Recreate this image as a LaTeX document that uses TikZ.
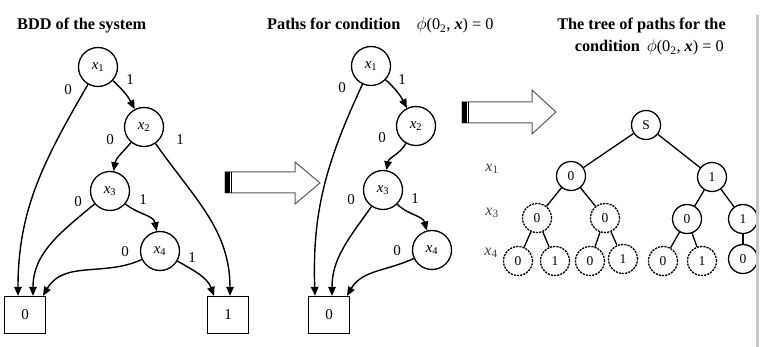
\documentclass[tikz,border=0pt]{standalone}
\usepackage{fontspec}
\setmainfont{Liberation Serif}
\usetikzlibrary{arrows.meta}

\tikzset{
  bdd/.style={circle,draw,line width=1.3pt,minimum size=39pt,inner sep=0pt,font=\fontsize{15}{15}\selectfont},
  term/.style={rectangle,draw,line width=1.3pt,minimum width=41pt,minimum height=37pt,inner sep=0pt,font=\fontsize{15}{15}\selectfont},
  edge/.style={line width=1.4pt,-{Triangle[length=9pt,width=7.5pt]}},
  lbl/.style={font=\fontsize{15}{15}\selectfont,inner sep=0pt},
  tnode/.style={circle,draw,line width=1.3pt,minimum size=29pt,inner sep=0pt,font=\fontsize{13.5}{13.5}\selectfont},
  tdash/.style={tnode,dash pattern=on 2.2pt off 1pt},
  tedge/.style={line width=1.3pt},
  lvl/.style={font=\fontsize{16}{16}\selectfont,inner sep=0pt,text=black!75},
  title/.style={font=\fontsize{16.3}{19}\selectfont,inner sep=0pt},
  bigarrow/.style={draw=black!65,line width=1pt,fill=white},
}
\newcommand{\xv}[1]{\textit{x}\textsubscript{#1}}
\newcommand{\cond}{$\phi$(0\textsubscript{2}, \textbf{\textit{x}}) = 0}

\begin{document}
\begin{tikzpicture}[x=1pt,y=1pt]
\fill[white] (0,0) rectangle (760,-347);
\useasboundingbox (0,0) rectangle (760,-347);

% titles
\node[title,anchor=base west] (t1) at (17,-30) {\textbf{BDD of the system}};
\node[title,anchor=base west] (t2) at (267,-30) {\textbf{Paths for condition}\quad\cond};
\node[title,anchor=base east] (t3a) at (726,-30) {\textbf{The tree of paths for the}};
\node[title,anchor=base east] (t3b) at (724,-52) {\textbf{condition}\, \cond};

% ---- BDD of the system ----
\node[bdd] (a1) at (98,-67) {\xv{1}};
\node[bdd] (a2) at (144,-127) {\xv{2}};
\node[bdd] (a3) at (110,-191) {\xv{3}};
\node[bdd] (a4) at (160,-251) {\xv{4}};
\node[term] (b0) at (25,-315) {0};
\node[term] (b1) at (228,-315) {1};

\draw[edge] (a1) to[out=240,in=90] ([xshift=-7pt]b0.north);
\draw[edge] (a1) to[bend left=10] (a2);
\draw[edge] (a2) to[out=230,in=80] (a3);
\draw[edge] (a2) to[out=-55,in=90] ([xshift=2pt]b1.north);
\draw[edge] (a3) to[out=220,in=90] ([xshift=8pt]b0.north);
\draw[edge] (a3) to[out=-40,in=100] (a4);
\draw[edge] (a4) to[out=205,in=60] ([xshift=18pt]b0.north);
\draw[edge] (a4) to[out=-30,in=110] ([xshift=-14pt]b1.north);

\node[lbl] (la1) at (68,-90) {0};
\node[lbl] (la2) at (130,-80) {1};
\node[lbl] (la3) at (110,-140) {0};
\node[lbl] (la4) at (180,-140) {1};
\node[lbl] (la5) at (78,-202) {0};
\node[lbl] (la6) at (143,-200) {1};
\node[lbl] (la7) at (125,-252) {0};
\node[lbl] (la8) at (192,-258) {1};

% ---- paths for the condition ----
\node[bdd] (p1) at (371,-66) {\xv{1}};
\node[bdd] (p2) at (416,-126) {\xv{2}};
\node[bdd] (p3) at (383,-190) {\xv{3}};
\node[bdd] (p4) at (432,-250) {\xv{4}};
\node[term] (c0) at (329,-315) {0};

\draw[edge] (p1) to[out=245,in=92] ([xshift=-14pt]c0.north);
\draw[edge] (p1) to[bend left=10] (p2);
\draw[edge] (p2) to[out=240,in=80] (p3);
\draw[edge] (p3) to[out=235,in=90] ([xshift=3pt]c0.north);
\draw[edge] (p3) to[out=-45,in=105] (p4);
\draw[edge] (p4) to[out=205,in=60] ([xshift=18pt]c0.north);

\node[lbl] (lp1) at (342,-88) {0};
\node[lbl] (lp2) at (402,-80) {1};
\node[lbl] (lp3) at (382,-138) {0};
\node[lbl] (lp4) at (351,-200) {0};
\node[lbl] (lp5) at (415,-199) {1};
\node[lbl] (lp6) at (397,-251) {0};

% ---- hollow transition arrows ----
\draw[bigarrow] (225,-172) -- (295,-172) -- (295,-162) -- (320,-183) -- (295,-204) -- (295,-193) -- (225,-193) -- cycle;
\fill (225,-172) rectangle (229.5,-193);
\draw[line width=0.8pt] (231.5,-172) -- (231.5,-193);

\draw[bigarrow] (462,-102) -- (532,-102) -- (532,-90) -- (556,-112) -- (532,-134) -- (532,-123) -- (462,-123) -- cycle;
\fill (462,-102) rectangle (466.5,-123);
\draw[line width=0.8pt] (468.5,-102) -- (468.5,-123);

% ---- tree of paths ----
\node[lvl] (v1) at (492,-169) {\xv{1}};
\node[lvl] (v3) at (492,-213) {\xv{3}};
\node[lvl] (v4) at (491,-253) {\xv{4}};

\node[tnode] (s) at (646,-125) {S};
\node[tnode] (n0) at (571,-176) {0};
\node[tnode] (n1) at (712,-177) {1};
\node[tdash] (m1) at (537,-218) {0};
\node[tdash] (m2) at (605,-218) {0};
\node[tnode] (m3) at (687,-219) {0};
\node[tnode] (m4) at (743,-219) {1};
\node[tdash] (k1) at (518,-261) {0};
\node[tdash] (k2) at (555,-261) {1};
\node[tdash] (k3) at (590,-261) {0};
\node[tdash] (k4) at (623,-259) {1};
\node[tdash] (k5) at (663,-261) {0};
\node[tdash] (k6) at (702,-261) {1};
\node[tnode] (k7) at (743,-259) {0};

\draw[tedge] (s) -- (n0);
\draw[tedge] (s) -- (n1);
\draw[tedge] (n0) -- (m1);
\draw[tedge] (n0) -- (m2);
\draw[tedge] (n1) -- (m3);
\draw[tedge] (n1) -- (m4);
\draw[tedge] (m1) -- (k1);
\draw[tedge] (m1) -- (k2);
\draw[tedge] (m2) -- (k3);
\draw[tedge] (m2) -- (k4);
\draw[tedge] (m3) -- (k5);
\draw[tedge] (m3) -- (k6);
\draw[tedge] (m4) -- (k7);

% right margin rule
\draw[line width=2.5pt,black!22] (757.5,-15) -- (757.5,-347);
\end{tikzpicture}
\end{document}
